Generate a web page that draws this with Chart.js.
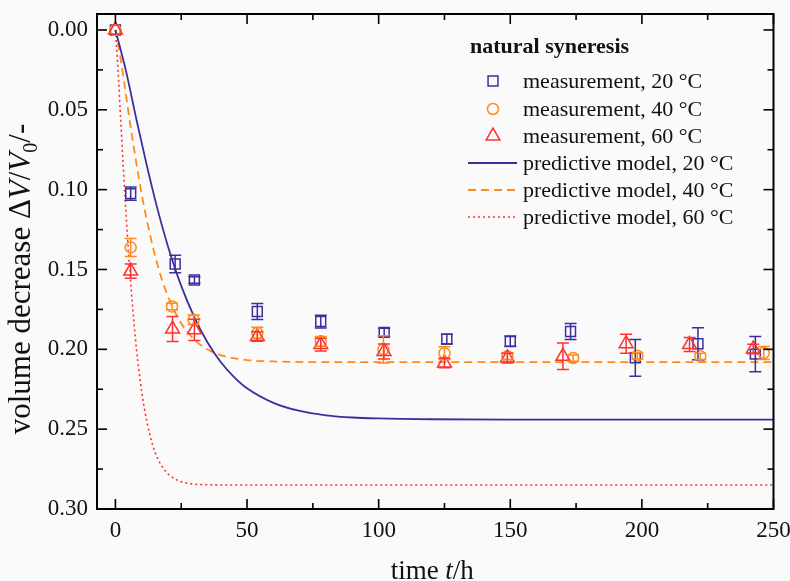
<!DOCTYPE html>
<html>
<head>
<meta charset="utf-8">
<title>natural syneresis</title>
<script src="https://cdn.jsdelivr.net/npm/chart.js@4.4.0/dist/chart.umd.min.js"></script>
<style>
  html, body { margin: 0; padding: 0; background: #fafafa; }
  #wrap { width: 790px; height: 581px; position: relative; }
</style>
</head>
<body>
<div id="wrap"><canvas id="chart"></canvas></div>
<script>
// ============================================
// Data
// ============================================
// measurements: time [h], volume decrease [-], error (half height)
const T20 = [0, 5.8, 22.7, 30, 53.9, 78, 102.1, 125.9, 150, 172.9, 197.5, 221.3, 243.1];
const V20 = [0, 0.1025, 0.1466, 0.1566, 0.1763, 0.1826, 0.1894, 0.1936, 0.195, 0.1888, 0.2053, 0.1965, 0.2030];
const E20 = [0, 0.0042, 0.0055, 0.002, 0.005, 0.004, 0.0026, 0.003, 0.0033, 0.005, 0.0115, 0.010, 0.011];

const T40 = [0, 5.8, 21.5, 29.7, 53.9, 78, 101.8, 125, 148.9, 173.9, 198.3, 222.2, 246.3];
const V40 = [0, 0.1362, 0.1732, 0.1815, 0.1898, 0.195, 0.200, 0.2024, 0.2044, 0.2055, 0.204, 0.2044, 0.2023];
const E40 = [0, 0.0056, 0.002, 0.003, 0.0036, 0.003, 0.0085, 0.004, 0.002, 0.002, 0.002, 0.002, 0.004];

const T60 = [0, 5.8, 21.7, 30, 53.9, 78, 102, 125, 148.9, 170, 194, 218.1, 242.3];
const V60 = [0, 0.151, 0.1873, 0.1878, 0.192, 0.197, 0.2013, 0.2086, 0.2055, 0.2044, 0.1965, 0.197, 0.1998];
const E60 = [0, 0.0045, 0.0078, 0.0067, 0.003, 0.004, 0.0047, 0.003, 0.003, 0.0083, 0.0059, 0.0044, 0.003];

// predictive model curves
const M20_T = [0, 4, 8, 12, 16, 20, 25, 30, 35, 40, 45, 50, 60, 70, 80, 90, 100, 120, 150, 200, 250];
const M20_V = [0, 0.0256, 0.0562, 0.0854, 0.1122, 0.1357, 0.1603, 0.1800, 0.1957, 0.2079, 0.2172, 0.2244,
               0.2335, 0.2386, 0.2413, 0.2427, 0.2433, 0.2438, 0.2440, 0.2440, 0.2440];

const M40_T = [0, 2, 4, 6, 8, 10, 12, 15, 18, 21, 25, 30, 35, 40, 50, 60, 80, 120, 250];
const M40_V = [0, 0.0182, 0.0406, 0.0630, 0.0839, 0.1030, 0.1197, 0.1410, 0.1580, 0.1710, 0.1837, 0.1940,
               0.2001, 0.2036, 0.2067, 0.2076, 0.2080, 0.2080, 0.2080];

const M60_T = [0, 1, 2, 3, 4, 5, 6, 7, 8, 10, 12, 14, 16, 18, 20, 24, 28, 35, 50, 250];
const M60_V = [0, 0.0254, 0.0563, 0.0864, 0.1146, 0.1402, 0.1627, 0.1825, 0.1998, 0.2267, 0.2457, 0.2591,
               0.2682, 0.2741, 0.2781, 0.2823, 0.2840, 0.2848, 0.2850, 0.2850];

// axis ticks
const X_MAJOR = [0, 50, 100, 150, 200, 250];
const X_MINOR = [25, 75, 125, 175, 225];
const Y_MAJOR = [0, 0.05, 0.10, 0.15, 0.20, 0.25, 0.30];
const Y_MINOR = [0.025, 0.075, 0.125, 0.175, 0.225, 0.275];

const LEGEND_TITLE = "natural syneresis";
const LEGEND_LABELS = [
  "measurement, 20 °C",
  "measurement, 40 °C",
  "measurement, 60 °C",
  "predictive model, 20 °C",
  "predictive model, 40 °C",
  "predictive model, 60 °C",
];

// ============================================
// Styles
// ============================================
const BLUE = "#3b2f9e";
const ORANGE = "#ff8c1a";
const RED = "#ff3030";
const SERIF = "'Liberation Serif', 'Times New Roman', serif";

const toXY = (xs, ys) => xs.map((x, i) => ({ x: x, y: ys[i] }));

function measurement(label, xs, ys, errs, color, style, radius, order) {
  return {
    label: label,
    data: toXY(xs, ys),
    errors: errs,
    showLine: false,
    pointStyle: style,
    pointRadius: radius,
    pointBorderWidth: 1.5,
    pointBorderColor: color,
    pointBackgroundColor: "rgba(0,0,0,0)",
    order: order,
  };
}

function model(label, xs, ys, color, dash, width, order) {
  return {
    label: label,
    data: toXY(xs, ys),
    showLine: true,
    borderColor: color,
    borderWidth: width,
    borderDash: dash,
    pointRadius: 0,
    fill: false,
    cubicInterpolationMode: "monotone",
    order: order,
  };
}

// ============================================
// Plugins: error bars, frame + inward ticks, legend, axis titles
// ============================================
const errorBars = {
  id: "errorBars",
  afterDatasetsDraw(chart) {
    const { ctx, scales: { x, y } } = chart;
    chart.data.datasets.forEach((ds) => {
      if (!ds.errors) return;
      ctx.save();
      ctx.strokeStyle = ds.pointBorderColor;
      ctx.lineWidth = 1.5;
      ds.data.forEach((p, i) => {
        const e = ds.errors[i];
        if (!e) return;
        const px = x.getPixelForValue(p.x);
        const y1 = y.getPixelForValue(p.y - e);
        const y2 = y.getPixelForValue(p.y + e);
        ctx.beginPath();
        ctx.moveTo(px, y1); ctx.lineTo(px, y2);
        ctx.moveTo(px - 6, y1); ctx.lineTo(px + 6, y1);
        ctx.moveTo(px - 6, y2); ctx.lineTo(px + 6, y2);
        ctx.stroke();
      });
      ctx.restore();
    });
  },
};

const frame = {
  id: "frame",
  afterDraw(chart) {
    const { ctx, chartArea: a, scales: { x, y } } = chart;
    ctx.save();
    ctx.strokeStyle = "#000";
    ctx.lineWidth = 1.6;
    const tick = (x1, y1, x2, y2) => {
      ctx.beginPath(); ctx.moveTo(x1, y1); ctx.lineTo(x2, y2); ctx.stroke();
    };
    X_MAJOR.concat(X_MINOR).forEach((v) => {
      const px = x.getPixelForValue(v);
      const len = X_MAJOR.includes(v) ? 10 : 6;
      tick(px, a.bottom, px, a.bottom - len);
      tick(px, a.top, px, a.top + len);
    });
    Y_MAJOR.concat(Y_MINOR).forEach((v) => {
      const py = y.getPixelForValue(v);
      const len = Y_MAJOR.includes(v) ? 10 : 6;
      tick(a.left, py, a.left + len, py);
      tick(a.right, py, a.right - len, py);
    });
    ctx.lineWidth = 2;
    ctx.strokeRect(a.left, a.top, a.right - a.left, a.bottom - a.top);
    ctx.restore();
  },
};

// draw a run of text pieces (normal / italic / subscript) centred at cx
function richText(ctx, parts, cx, base, size) {
  const fontOf = (p) => (p.it ? "italic " : "") + Math.round(p.sub ? size * 0.65 : size) + "px " + SERIF;
  let total = 0;
  parts.forEach((p) => { ctx.font = fontOf(p); p.w = ctx.measureText(p.t).width; total += p.w; });
  let x = cx - total / 2;
  parts.forEach((p) => {
    ctx.font = fontOf(p);
    ctx.fillText(p.t, x, base + (p.sub ? size * 0.22 : 0));
    x += p.w;
  });
}

const titles = {
  id: "titles",
  afterDraw(chart) {
    const { ctx, chartArea: a } = chart;
    ctx.save();
    ctx.fillStyle = "#111";
    ctx.textBaseline = "alphabetic";
    ctx.textAlign = "left";
    richText(ctx, [{ t: "time " }, { t: "t", it: true }, { t: "/h" }], (a.left + a.right) / 2 - 3, 579, 27);
    ctx.translate(30, 279);
    ctx.rotate(-Math.PI / 2);
    richText(ctx, [
      { t: "volume decrease \u0394" }, { t: "V", it: true }, { t: "/" },
      { t: "V", it: true }, { t: "0", sub: true }, { t: "/-" },
    ], 0, 0, 31);
    ctx.restore();
  },
};

const legendBox = {
  id: "legendBox",
  afterDraw(chart) {
    const { ctx } = chart;
    const rows = [81, 109, 136, 163, 190, 217];
    ctx.save();
    ctx.fillStyle = "#111";
    ctx.textAlign = "left";
    ctx.textBaseline = "alphabetic";
    ctx.font = "bold 22px " + SERIF;
    ctx.fillText(LEGEND_TITLE, 470, 53);
    chart.data.datasets.forEach((ds, i) => {
      const cy = rows[i];
      if (ds.errors) {
        ctx.strokeStyle = ds.pointBorderColor;
        ctx.fillStyle = "rgba(0,0,0,0)";
        ctx.lineWidth = 1.5;
        Chart.helpers.drawPoint(ctx, { pointStyle: ds.pointStyle, radius: ds.pointRadius, borderWidth: 1.5 }, 493, cy);
      } else {
        ctx.strokeStyle = ds.borderColor;
        ctx.lineWidth = ds.borderWidth;
        ctx.setLineDash(ds.borderDash);
        ctx.beginPath(); ctx.moveTo(468, cy); ctx.lineTo(517, cy); ctx.stroke();
        ctx.setLineDash([]);
      }
      ctx.fillStyle = "#111";
      ctx.font = "22px " + SERIF;
      ctx.fillText(LEGEND_LABELS[i], 523, cy + 7);
    });
    ctx.restore();
  },
};

// ============================================
// Chart
// ============================================
const ctx = document.getElementById("chart").getContext("2d");

new Chart(ctx, {
  type: "scatter",
  data: {
    datasets: [
      measurement(LEGEND_LABELS[0], T20, V20, E20, BLUE, "rect", 7, 2),
      measurement(LEGEND_LABELS[1], T40, V40, E40, ORANGE, "circle", 5.5, 1),
      measurement(LEGEND_LABELS[2], T60, V60, E60, RED, "triangle", 8, 0),
      model(LEGEND_LABELS[3], M20_T, M20_V, BLUE, [], 1.8, 3),
      model(LEGEND_LABELS[4], M40_T, M40_V, ORANGE, [8, 5], 1.8, 4),
      model(LEGEND_LABELS[5], M60_T, M60_V, RED, [2, 3], 1.6, 5),
    ],
  },
  options: {
    responsive: true,
    maintainAspectRatio: false,
    devicePixelRatio: 1,
    animation: false,
    layout: { padding: { left: 0, top: 14, right: 16.5, bottom: 0 } },
    plugins: { legend: { display: false }, tooltip: { enabled: false } },
    scales: {
      x: {
        type: "linear",
        min: -7,
        max: 250,
        grid: { display: false, drawTicks: false },
        border: { display: false },
        afterBuildTicks: (s) => { s.ticks = X_MAJOR.map((v) => ({ value: v })); },
        afterFit: (s) => { s.height = 72; s.paddingLeft = 0; s.paddingRight = 0; },
        ticks: {
          autoSkip: false,
          maxRotation: 0,
          padding: 8,
          color: "#111",
          font: { family: SERIF, size: 23 },
          callback: (v) => String(v),
        },
      },
      y: {
        type: "linear",
        reverse: true,
        min: -0.01,
        max: 0.30,
        grid: { display: false, drawTicks: false },
        border: { display: false },
        afterBuildTicks: (s) => { s.ticks = Y_MAJOR.map((v) => ({ value: v })); },
        afterFit: (s) => { s.width = 97; s.paddingTop = 0; s.paddingBottom = 0; },
        ticks: {
          padding: 9,
          color: "#111",
          font: { family: SERIF, size: 23 },
          callback: (v) => Number(v).toFixed(2),
        },
      },
    },
  },
  plugins: [errorBars, frame, titles, legendBox],
});
</script>
</body>
</html>
